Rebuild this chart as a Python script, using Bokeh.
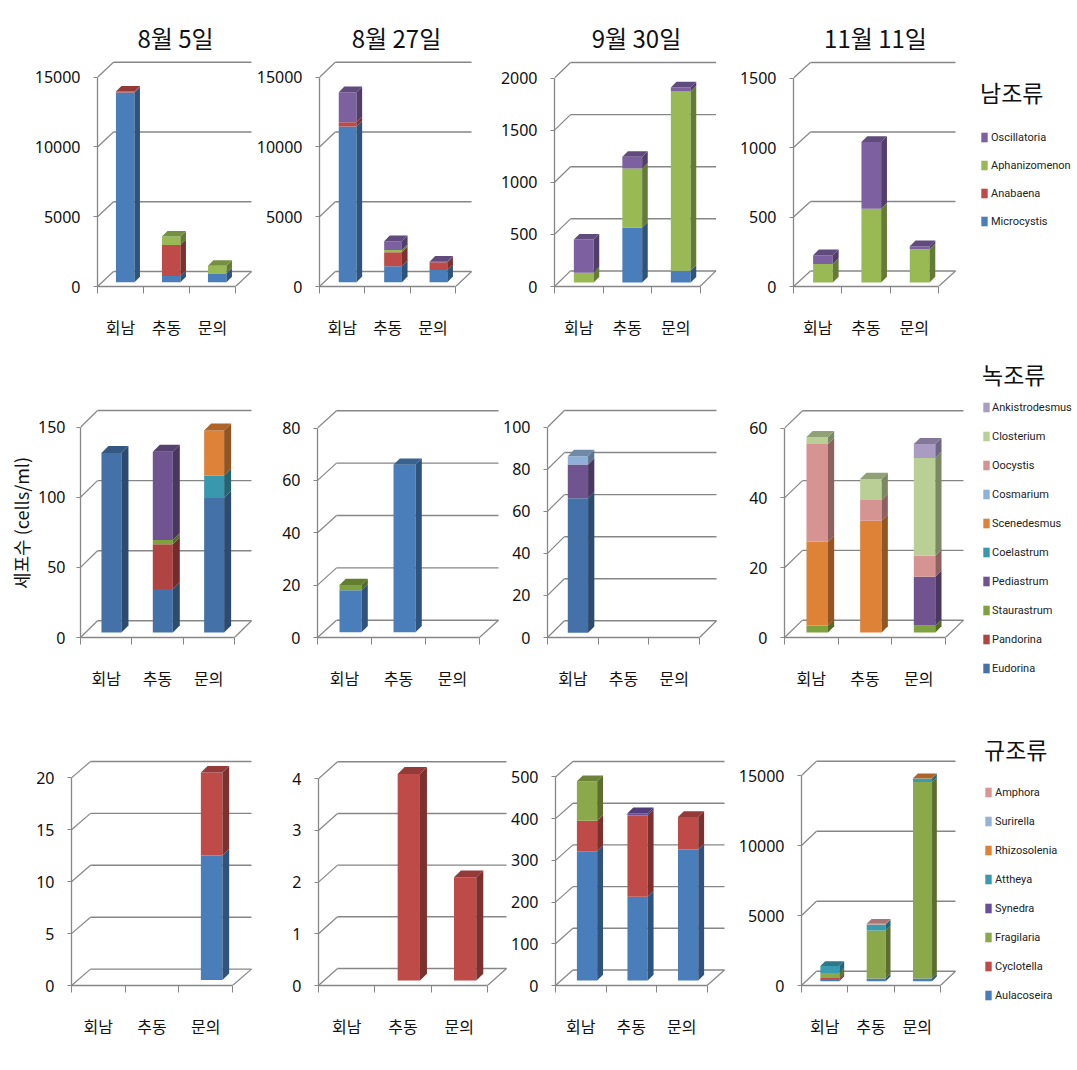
from bokeh.plotting import figure
from bokeh.layouts import column, row
from bokeh.models import (Range1d, LinearAxis, FixedTicker, Legend, LegendItem, Title)
from bokeh.embed import file_html
from bokeh.resources import INLINE

# ---------- categories and text ----------
sites = ["회남", "추동", "문의"]
dates = ["8월 5일", "8월 27일", "9월 30일", "11월 11일"]
y_axis_title = "세포수 (cells/ml)"

# ---------- series names (bottom of stack first) ----------
cyano_names = ["Microcystis", "Anabaena", "Aphanizomenon", "Oscillatoria"]
green_names = ["Eudorina", "Pandorina", "Staurastrum", "Pediastrum", "Coelastrum",
               "Scenedesmus", "Cosmarium", "Oocystis", "Closterium", "Ankistrodesmus"]
diatom_names = ["Aulacoseira", "Cyclotella", "Fragilaria", "Synedra", "Attheya",
                "Rhizosolenia", "Surirella", "Amphora"]

# ---------- colours ----------
cyano_colors = ["#4A7EBB", "#BE4B48", "#98B954", "#7D60A0"]
green_colors = ["#4472A8", "#AF4442", "#7FA23F", "#6F5490", "#3A98AE",
                "#DE8238", "#8FB0D8", "#D59392", "#B9CF96", "#A99BC2"]
green_colors_b = ["#4A7EBB"] + green_colors[1:]
diatom_colors = ["#4A7EBB", "#BE4B48", "#8BA84A", "#6A4F9A", "#3A9AB0",
                 "#DE8238", "#95B3D7", "#D99694"]

# ---------- values: one list per series, [회남, 추동, 문의] ----------
c1 = [[13600, 450, 620], [60, 2220, 30], [0, 600, 520], [0, 0, 0]]
c2 = [[11160, 1150, 880], [310, 1000, 550], [0, 160, 0], [2150, 620, 40]]
c3 = [[0, 527, 114], [0, 0, 0], [95, 568, 1720], [317, 111, 38]]
c4 = [[0, 0, 0], [0, 0, 0], [133, 531, 240], [64, 481, 21]]

g1 = [[128, 31, 96], [0, 32, 0], [0, 3, 0], [0, 63, 0], [0, 0, 16],
      [0, 0, 32], [0, 0, 0], [0, 0, 0], [0, 0, 0], [0, 0, 0]]
g2 = [[16, 64, 0], [0, 0, 0], [2, 0, 0], [0, 0, 0], [0, 0, 0],
      [0, 0, 0], [0, 0, 0], [0, 0, 0], [0, 0, 0], [0, 0, 0]]
g3 = [[64, 0, 0], [0, 0, 0], [0, 0, 0], [16, 0, 0], [0, 0, 0],
      [0, 0, 0], [4, 0, 0], [0, 0, 0], [0, 0, 0], [0, 0, 0]]
g4 = [[0, 0, 0], [0, 0, 0], [2, 0, 2], [0, 0, 14], [0, 0, 0],
      [24, 32, 0], [0, 0, 0], [28, 6, 6], [2, 6, 28], [0, 0, 4]]

d1 = [[0, 0, 12], [0, 0, 8], [0, 0, 0], [0, 0, 0], [0, 0, 0], [0, 0, 0], [0, 0, 0], [0, 0, 0]]
d2 = [[0, 0, 0], [0, 4, 2], [0, 0, 0], [0, 0, 0], [0, 0, 0], [0, 0, 0], [0, 0, 0], [0, 0, 0]]
d3 = [[310, 201, 314], [73, 195, 78], [95, 0, 0], [0, 5, 0], [0, 0, 0], [0, 0, 0], [0, 0, 0], [0, 0, 0]]
d4 = [[90, 190, 200], [140, 0, 0], [350, 3430, 14020], [0, 0, 0], [500, 430, 250],
      [0, 0, 30], [0, 0, 0], [0, 50, 0]]

# ---------- axis ticks ----------
ticks_row1 = [[0, 5000, 10000, 15000], [0, 5000, 10000, 15000],
              [0, 500, 1000, 1500, 2000], [0, 500, 1000, 1500]]
ticks_row2 = [[0, 50, 100, 150], [0, 20, 40, 60, 80],
              [0, 20, 40, 60, 80, 100], [0, 20, 40, 60]]
ticks_row3 = [[0, 5, 10, 15, 20], [0, 1, 2, 3, 4],
              [0, 100, 200, 300, 400, 500], [0, 5000, 10000, 15000]]

# ---------- page geometry of each panel (page pixels) ----------
# x0, x3, right, y0, ytop, yback, bar width, bar shift, side depth, lift
geo_row1 = [(97, 235, 251, 286, 76.7, 61.7, 18.5, 4.7, 5.5, 4.3),
            (317, 455, 471, 286, 76.7, 61.7, 18.0, 5.5, 5.7, 4.3),
            (554.5, 700, 716, 287, 76.7, 61.0, 19.8, 5.0, 5.6, 4.0),
            (793, 938, 955, 287, 76.7, 61.0, 19.7, 5.3, 5.8, 4.0)]
geo_row2 = [(80, 234, 251, 637, 426.7, 410, 20.0, 5.3, 7.0, 5.0),
            (317, 479, 498, 638, 426.7, 409.3, 22.0, 6.0, 6.3, 5.3),
            (546, 699, 716, 637, 426.7, 410, 20.4, 5.1, 6.3, 4.7),
            (784, 945, 963, 637, 426.7, 409.3, 21.5, 5.9, 6.2, 5.0)]
geo_row3 = [(71, 232, 251, 987, 775.7, 759, 21.6, 6.0, 6.7, 5.5),
            (318, 487, 506, 987, 775.7, 758.3, 22.3, 5.8, 7.0, 5.0),
            (554.5, 707, 724.5, 987, 775.7, 760, 20.4, 6.3, 5.9, 5.0),
            (801, 940, 955, 985, 775, 760.7, 19.0, 5.2, 4.8, 4.3)]
ROW_TOPS = [0, 352, 722, 1066]
LEFT_COL_W = 965
PAGE_W = 1075
TITLE_SHIFT = [-8, 4, -4, 9]
LINE = "#868686"
FONT = "Noto Sans"
LFONT = "Roboto"
KFONT = "Noto Sans CJK KR"


def shade(hex_color, f):
    r, g, b = (int(hex_color[i:i + 2], 16) for i in (1, 3, 5))
    return "#%02x%02x%02x" % (int(r * f), int(g * f), int(b * f))


def panel(series, colors, ticks, geo, prev_right, row_top, row_bottom, title=None, ylabel=None, title_shift=0):
    x0, x3, right, y0, ytop, yback, bw, shift, side, lift = geo
    x0r, y0r = round(x0), round(y0)
    frame_right = round(right) + 2
    frame_top = round(yback) - 2
    px_x = 3 / (x3 - x0)                 # data units per pixel, x
    px_y = ticks[-1] / (y0 - ytop)       # data units per pixel, y
    border_left = x0r - prev_right
    width = frame_right - prev_right
    height = row_bottom - row_top
    p = figure(width=width, height=height, output_backend="svg", toolbar_location=None,
               x_range=Range1d(0, (frame_right - x0r) * px_x),
               y_range=Range1d(0, (y0r - frame_top) * px_y),
               x_axis_location=None, y_axis_location=None,
               min_border_left=border_left, min_border_right=0,
               min_border_top=frame_top - row_top, min_border_bottom=row_bottom - y0r)
    p.outline_line_color = None
    p.grid.visible = False
    p.background_fill_color = None
    p.border_fill_color = None

    # walls and floor
    dx = (right - x3) * px_x
    dy = (y0 - yback) * px_y - ticks[-1]
    xend = (right - x0) * px_x
    p.segment(x0=[0] * len(ticks), y0=ticks, x1=[dx] * len(ticks), y1=[t + dy for t in ticks],
              line_color=LINE, line_width=1.2)
    p.segment(x0=[dx] * len(ticks), y0=[t + dy for t in ticks], x1=[xend] * len(ticks),
              y1=[t + dy for t in ticks], line_color=LINE, line_width=1.4)
    p.segment(x0=[3], y0=[0], x1=[3 + dx], y1=[dy], line_color=LINE, line_width=1.2)

    # bars
    w = bw * px_x
    sx = side * px_x
    sy = side * px_y
    lf = lift * px_y
    for i in range(3):
        left = i + 0.5 + shift * px_x - w / 2
        base = lf
        top_col = None
        for vals, col in zip(series, colors):
            v = vals[i]
            if v <= 0:
                continue
            top = base + v
            p.quad(left=[left], right=[left + w], bottom=[base], top=[top],
                   fill_color=col, line_color=None)
            p.patch(x=[left + w, left + w + sx, left + w + sx, left + w],
                    y=[base, base + sy, top + sy, top],
                    fill_color=shade(col, 0.66), line_color=None)
            base = top
            top_col = col
        if top_col:
            p.patch(x=[left, left + w, left + w + sx, left + sx],
                    y=[base, base, base + sy, base + sy],
                    fill_color=shade(top_col, 0.78), line_color=None)

    # axes
    ya = LinearAxis(ticker=FixedTicker(ticks=ticks), bounds=(0, ticks[-1]))
    ya.axis_line_color = LINE
    ya.axis_line_width = 1.3
    ya.major_tick_line_color = LINE
    ya.major_tick_in = 0
    ya.major_tick_out = 4
    ya.minor_tick_line_color = None
    ya.major_label_standoff = 13
    ya.major_label_text_font = FONT
    ya.major_label_text_font_size = "16px"
    ya.major_label_text_color = "#111111"
    if ylabel:
        ya.axis_label = ylabel
        ya.axis_label_text_font = KFONT
        ya.axis_label_text_font_size = "18px"
        ya.axis_label_text_font_style = "normal"
        ya.axis_label_text_color = "#111111"
        ya.axis_label_standoff = 1
        ya.major_label_standoff = 11
    p.add_layout(ya, "left")

    xa = LinearAxis(ticker=FixedTicker(ticks=[0.5, 1.5, 2.5], minor_ticks=[0, 1, 2, 3]),
                    bounds=(0, 3))
    xa.major_label_overrides = {0.5: sites[0], 1.5: sites[1], 2.5: sites[2]}
    xa.axis_line_color = LINE
    xa.axis_line_width = 1.3
    xa.major_tick_line_color = None
    xa.major_tick_out = 0
    xa.major_tick_in = 0
    xa.minor_tick_line_color = LINE
    xa.minor_tick_in = 0
    xa.minor_tick_out = 7
    xa.major_label_standoff = 21
    xa.major_label_text_font = KFONT
    xa.major_label_text_font_size = "16px"
    xa.major_label_text_color = "#111111"
    p.add_layout(xa, "below")

    if title:
        t = Title(text=title, align="center", offset=title_shift, standoff=12,
                  text_font=KFONT, text_font_size="24px", text_font_style="normal",
                  text_color="#111111")
        p.add_layout(t, "above")
    return p


def add_legend(p, names, colors, group, lx, ly_top, spacing, gap, standoff):
    items = []
    for name, col in zip(reversed(names), reversed(colors)):
        # drawn outside the range: only its legend swatch shows
        r = p.quad(left=[-2], right=[-1], bottom=[-2], top=[-1], fill_color=col, line_color=None)
        items.append(LegendItem(label=name, renderers=[r]))
    item_h = 14
    title_h = 26
    total = len(names) * item_h + (len(names) - 1) * spacing + title_h + gap
    H = ROW_TOPS[-1]
    leg = Legend(items=items, location=(lx - LEFT_COL_W, H - ly_top - total),
                 orientation="vertical", title=group, title_standoff=gap,
                 title_text_font=KFONT, title_text_font_size="23px",
                 title_text_font_style="normal", title_text_color="#111111",
                 label_text_font=LFONT, label_text_font_size="11px", label_text_color="#222222",
                 label_height=item_h, label_standoff=standoff, glyph_width=8, glyph_height=12,
                 spacing=spacing, padding=0, margin=0, border_line_color=None,
                 background_fill_color=None, background_fill_alpha=0)
    p.add_layout(leg, "center")


def build_row(idx, all_series, colors, ticks_row, geo_row):
    top, bottom = ROW_TOPS[idx], ROW_TOPS[idx + 1]
    prev = 0
    figs = []
    for k in range(4):
        ttl = dates[k] if idx == 0 else None
        yl = y_axis_title if (idx == 1 and k == 0) else None
        cols = green_colors_b if (idx == 1 and k in (1, 3)) else colors
        f = panel(all_series[k], cols, ticks_row[k], geo_row[k], prev, top, bottom, ttl, yl,
                  TITLE_SHIFT[k])
        figs.append(f)
        prev = round(geo_row[k][2]) + 2
    return row(*figs, spacing=0)


r1 = build_row(0, [c1, c2, c3, c4], cyano_colors, ticks_row1, geo_row1)
r2 = build_row(1, [g1, g2, g3, g4], green_colors, ticks_row2, geo_row2)
r3 = build_row(2, [d1, d2, d3, d4], diatom_colors, ticks_row3, geo_row3)

lf = figure(width=PAGE_W - LEFT_COL_W, height=ROW_TOPS[-1], output_backend="svg", toolbar_location=None,
            x_range=Range1d(0, 1), y_range=Range1d(0, 1),
            x_axis_location=None, y_axis_location=None, min_border=0)
lf.outline_line_color = None
lf.grid.visible = False
lf.background_fill_color = None
lf.border_fill_color = None
add_legend(lf, cyano_names, cyano_colors, "남조류", 980, 83, 14, 21, 3)
add_legend(lf, green_names, green_colors, "녹조류", 982, 365, 15, 9, 2)
add_legend(lf, diatom_names, diatom_colors, "규조류", 984, 740, 15, 19, 3)

page = row(column(r1, r2, r3, spacing=0), lf, spacing=0)
open("out.html", "w").write(file_html(page, INLINE))
